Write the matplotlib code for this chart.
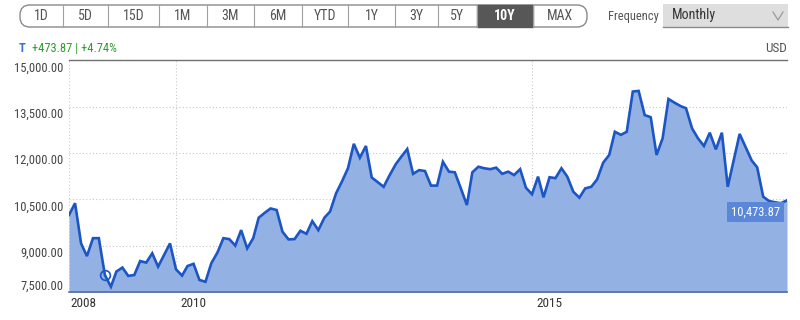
import numpy as np
import pandas as pd
import matplotlib
matplotlib.use('Agg')
import matplotlib.pyplot as plt
from matplotlib.patches import FancyBboxPatch, Rectangle
from matplotlib.transforms import blended_transform_factory, offset_copy

plt.rcParams['font.family'] = ['Roboto Condensed', 'Liberation Sans Narrow', 'Roboto', 'DejaVu Sans']

# ---- data (monthly closes) ----
start_month = '2008-07-01'
values = [10000, 10380, 9080, 8670, 9250, 9250, 8060, 7680, 8170, 8300,
          8030, 8060, 8510, 8460, 8760, 8330, 8710, 9080, 8240, 8040,
          8350, 8420, 7900, 7840, 8440, 8780, 9250, 9220, 9010, 9510,
          8920, 9250, 9910, 10070, 10210, 10160, 9460, 9210, 9220, 9490,
          9390, 9800, 9510, 9910, 10110, 10700, 11080, 11510, 12300, 11850,
          12230, 11210, 11060, 10910, 11290, 11640, 11880, 12130, 11330, 11450,
          11420, 10950, 10950, 11720, 11400, 11380, 10860, 10320, 11380, 11560,
          11510, 11480, 11530, 11330, 11400, 11290, 11480, 10880, 10670, 11240,
          10570, 11220, 11190, 11510, 11240, 10750, 10560, 10860, 10910, 11150,
          11690, 11940, 12690, 12590, 12690, 13990, 14010, 13230, 13160, 11940,
          12480, 13750, 13630, 13520, 13450, 12800, 12480, 12230, 12660, 12120,
          12660, 10910, 11780, 12620, 12190, 11760, 11540, 10590, 10450, 10410,
          10380, 10473.87]
marker_idx = 6
y_ticks = [7500, 9000, 10500, 12000, 13500, 15000]
x_tick_years = ['2008', '2010', '2015']
ranges = ['1D', '5D', '15D', '1M', '3M', '6M', 'YTD', '1Y', '3Y', '5Y', '10Y', 'MAX']
selected_range = '10Y'
change_text = '+473.87 | +4.74%'
currency = 'USD'
frequency = 'Monthly'

dates = pd.date_range(start_month, periods=len(values), freq='MS')
line_col = '#1c55c4'
fill_col = '#93b1e3'
fs = 9

fig = plt.figure(figsize=(8, 3.2), dpi=100)
W, H = 800, 320
ax = fig.add_axes([69 / W, 1 - 292.3 / H, (787 - 69) / W, (292.3 - 60.3) / H])

ax.fill_between(dates, values, y_ticks[0], color=fill_col, lw=0)
ax.plot(dates, values, color=line_col, lw=1.9, solid_joinstyle='miter')
ax.plot(dates[marker_idx], values[marker_idx], 'o', ms=7, mfc='none',
        mec=line_col, mew=1.2)

ax.set_xlim(dates[0], dates[-1])
ax.set_ylim(y_ticks[0], y_ticks[-1])

for v in y_ticks[1:-1]:
    ax.axhline(v, color='#c8c8c8', lw=0.8, ls=(0, (1, 2)), zorder=0.5)
tick_dates = [dates[0], pd.Timestamp('2010-01-01'), pd.Timestamp('2015-01-01')]
for d in tick_dates:
    ax.axvline(d, color='#c8c8c8', lw=0.8, ls=(0, (1, 2)), zorder=0.5)

for s in ['left', 'right']:
    ax.spines[s].set_visible(False)
ax.spines['top'].set_color('#707070')
ax.spines['top'].set_linewidth(1)
ax.spines['bottom'].set_color('#5670a6')
ax.spines['bottom'].set_linewidth(1.2)
ax.set_xticks([])
ax.set_yticks([])

# y labels sit just under their gridline
ytr = blended_transform_factory(ax.transAxes, ax.transData)
for v in y_ticks:
    lab = f'{v:,.2f}'
    if v == y_ticks[0]:
        ax.text(-6 / 718, v, lab, transform=offset_copy(ytr, fig, y=3, units='dots'),
                ha='right', va='baseline', fontsize=fs, color='#444')
    else:
        ax.text(-6 / 718, v, lab, transform=offset_copy(ytr, fig, y=-1, units='dots'),
                ha='right', va='top', fontsize=fs, color='#444')

xtr = blended_transform_factory(ax.transData, ax.transAxes)
for d, lab, dx in zip(tick_dates, x_tick_years, [1, 4, 4]):
    ax.text(d, 0, lab, transform=offset_copy(xtr, fig, x=dx, y=-5, units='dots'),
            ha='left', va='top', fontsize=fs + 0.5, color='#333')

# last value tag
ax.annotate(f'{values[-1]:,.2f}', (dates[-1], values[-1]), xytext=(-7, -5),
            textcoords='offset pixels', ha='right', va='top', fontsize=fs,
            color='white',
            bbox=dict(boxstyle='square,pad=0.3', fc='#5a87d8', ec='none'))

# ---- header widgets (pixel layout, top-left origin) ----
tr = fig.dpi_scale_trans


def px(x, y):
    return x / 100, (H - y) / 100


edges = [20, 63, 108, 159, 207, 254, 302, 348, 395, 438, 477, 533, 587]
top, bot = 5, 27
x0, y0 = px(edges[0], bot)
outer = FancyBboxPatch((x0, y0), (edges[-1] - edges[0]) / 100, (bot - top) / 100,
                       boxstyle='round,pad=0,rounding_size=0.1', transform=tr,
                       fc='white', ec='#8a8a8a', lw=1)
fig.add_artist(outer)
for i, lab in enumerate(ranges):
    xa, xb = edges[i], edges[i + 1]
    if lab == selected_range:
        fig.add_artist(Rectangle(px(xa, bot), (xb - xa) / 100, (bot - top) / 100,
                                 transform=tr, fc='#575757', ec='#575757', lw=1))
        fig.text(*px((xa + xb) / 2, 16.5), lab, transform=tr, ha='center', va='center',
                 fontsize=10, color='white', fontweight='bold')
    else:
        fig.text(*px((xa + xb) / 2, 16.5), lab, transform=tr, ha='center', va='center',
                 fontsize=10, color='#555')
    if 0 < i:
        fig.add_artist(plt.Line2D([xa / 100, xa / 100], [(H - top) / 100, (H - bot) / 100],
                                  transform=tr, color='#a0a0a0', lw=0.8))

fig.text(*px(608, 16.5), 'Frequency', transform=tr, ha='left', va='center',
         fontsize=fs, color='#555')
fig.add_artist(Rectangle(px(663, 27), 125 / 100, 23 / 100, transform=tr,
                         fc='#dedede', ec='none'))
fig.add_artist(plt.Line2D([663 / 100, 788 / 100], [(H - 27) / 100] * 2, transform=tr,
                          color='#8a8a8a', lw=1))
fig.text(*px(672, 15.5), frequency, transform=tr, ha='left', va='center',
         fontsize=10, color='#333')
fig.add_artist(plt.Line2D([773 / 100, 778 / 100, 783 / 100],
                          [(H - 12) / 100, (H - 20) / 100, (H - 12) / 100],
                          transform=tr, color='#9a9a9a', lw=0.9))

fig.text(*px(22, 48), 'T', transform=tr, ha='center', va='center', fontsize=fs,
         color='#3d6fd0', fontweight='bold')
fig.text(*px(32, 48), change_text, transform=tr, ha='left', va='center',
         fontsize=fs, color='#2f9a2f')
fig.text(*px(787, 48), currency, transform=tr, ha='right', va='center',
         fontsize=fs + 0.5, color='#555')

fig.savefig('out.png', dpi=100)
